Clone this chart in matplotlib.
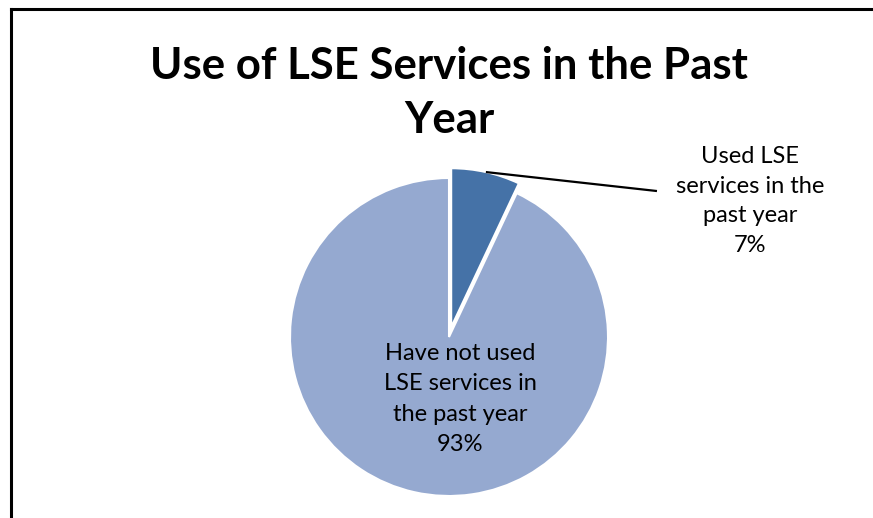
import numpy as np
import matplotlib
matplotlib.use('Agg')
import matplotlib.pyplot as plt
from matplotlib.lines import Line2D

plt.rcParams['font.family'] = ['Lato', 'DejaVu Sans']

title = 'Use of LSE Services in the Past\nYear'
names = ['Used LSE\nservices in the\npast year', 'Have not used\nLSE services in\nthe past year']
shares = [7, 93]
colors = ['#4572A7', '#95A9D0']
explode = [0.063, 0]

W, H = 873, 518
fig = plt.figure(figsize=(W / 100, H / 100), dpi=100)
ax = fig.add_axes([0, 0, 1, 1])

wedges, _ = ax.pie(shares, colors=colors, explode=explode, startangle=90,
                   counterclock=False, radius=1,
                   wedgeprops=dict(edgecolor='white', linewidth=1.5))

# pie centre sits at pixel (449, 337), radius 159 px
cx, cy, r = 449, 337, 159
ax.set_xlim(-cx / r, (W - cx) / r)
ax.set_ylim(-(H - cy) / r, cy / r)
ax.set_aspect('equal')
ax.axis('off')

# labels
small, big = wedges
ax.text(0.069, -0.39, f'{names[1]}\n{shares[1]}%', ha='center', va='center',
        fontsize=17, linespacing=1.55, color='black')
ax.text(1.893, 0.855, f'{names[0]}\n{shares[0]}%', ha='center', va='center',
        fontsize=17, linespacing=1.5, color='black')

# leader line from the middle of the small wedge's arc
mid = np.deg2rad((small.theta1 + small.theta2) / 2)
x0 = small.center[0] + np.cos(mid)
y0 = small.center[1] + np.sin(mid)
ax.plot([x0, 1.308], [y0, 0.918], color='black', linewidth=1.6,
        solid_capstyle='butt')

fig.text(449 / W, 1 - 93 / H, title, ha='center', va='center',
         fontsize=31.5, fontweight='bold', linespacing=1.4)

# chart frame (left and top edges)
fig.add_artist(Line2D([10.5 / W, 10.5 / W], [0, 1 - 8.5 / H],
                      transform=fig.transFigure, color='black', linewidth=2.2))
fig.add_artist(Line2D([10.5 / W, 1], [1 - 8.5 / H, 1 - 8.5 / H],
                      transform=fig.transFigure, color='black', linewidth=2.2))

fig.savefig('out.png', dpi=100, facecolor='white')
